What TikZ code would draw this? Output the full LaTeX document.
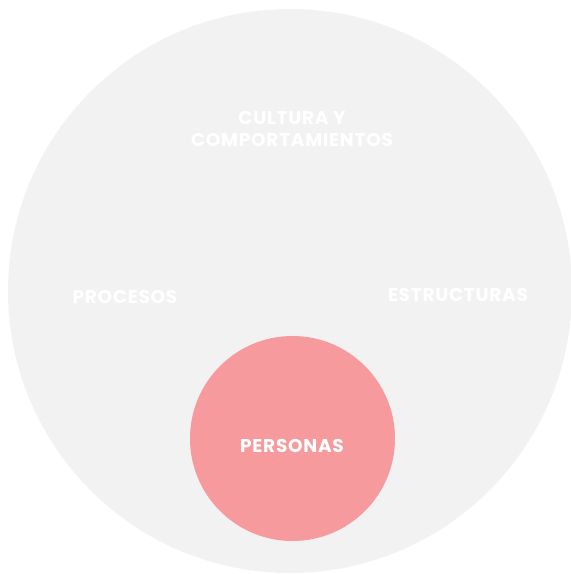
\documentclass[tikz,border=0pt]{standalone}
\usepackage{fontspec}
\setmainfont{Poppins}[LetterSpace=4]
\definecolor{bggrey}{HTML}{F2F2F2}
\definecolor{pinkc}{HTML}{F69A9D}
\tikzset{
  lbl/.style={text=white, font=\bfseries\fontsize{18.5}{22}\selectfont, align=center, inner sep=0pt},
}
\begin{document}
\begin{tikzpicture}[x=1pt,y=-1pt]
\useasboundingbox (0,0) rectangle (571,574);
\fill[bggrey] (290,291) circle[radius=282];
\fill[pinkc] (292.5,438.5) circle[radius=102.5];
\node[lbl] (cult) at (292,129) {CULTURA Y\\COMPORTAMIENTOS};
\node[lbl] (proc) at (125,297) {PROCESOS};
\node[lbl] (estr) at (458,295) {ESTRUCTURAS};
\node[lbl] (pers) at (292,446) {PERSONAS};
\end{tikzpicture}
\end{document}
